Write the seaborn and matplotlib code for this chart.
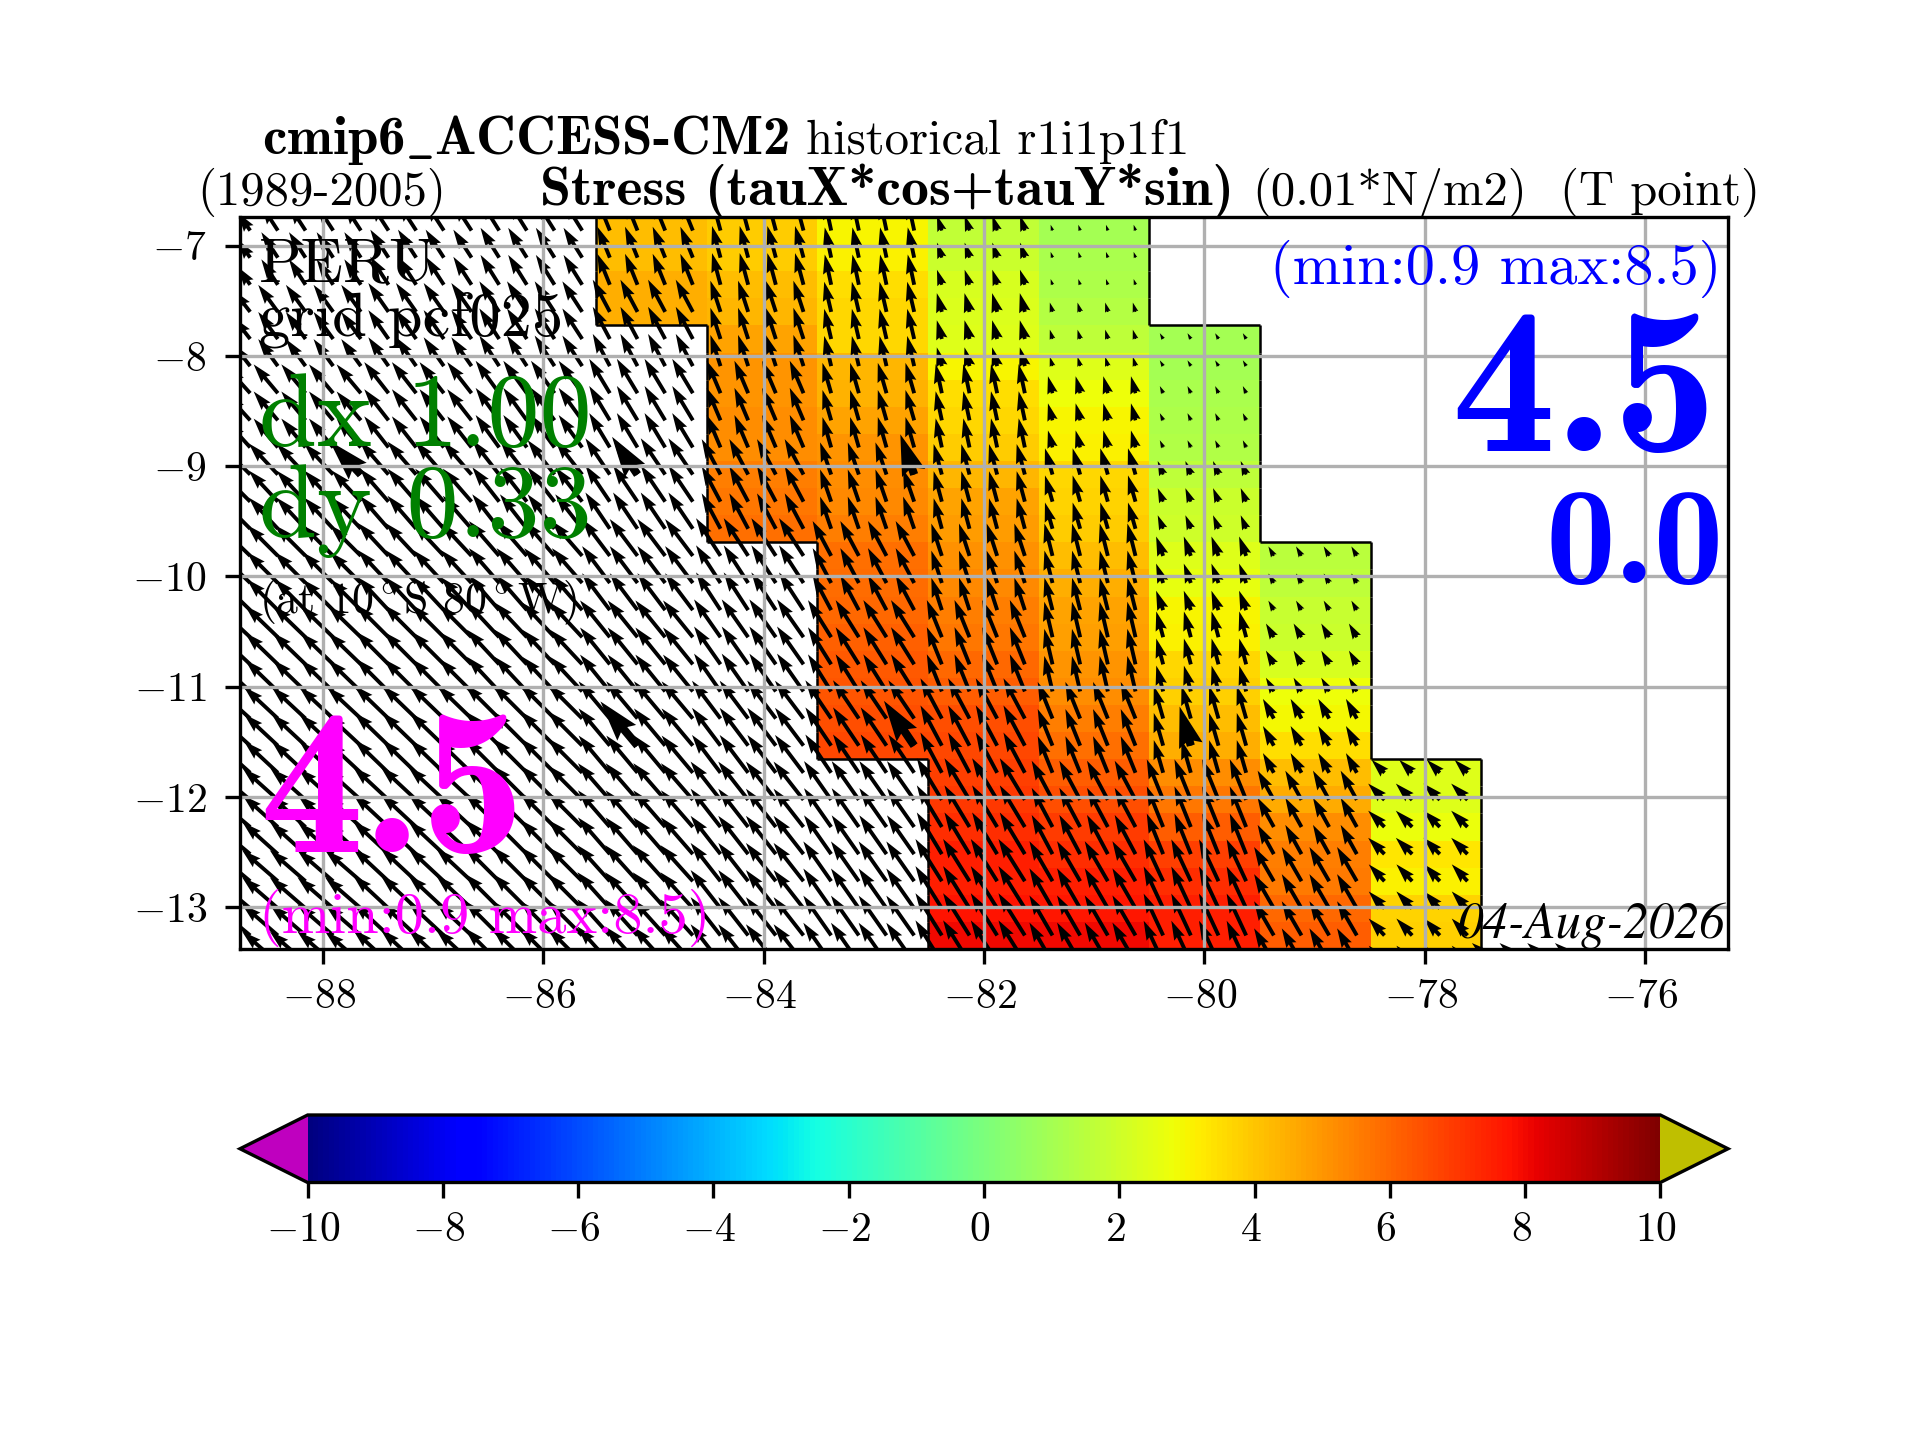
import numpy as np
import pandas as pd
import matplotlib
matplotlib.use("Agg")
import matplotlib.pyplot as plt
from matplotlib.transforms import ScaledTranslation
import seaborn as sns

plt.rcParams['mathtext.fontset'] = 'cm'
plt.rcParams['font.family'] = ['cmr10', 'DejaVu Serif']
plt.rcParams['axes.unicode_minus'] = True

# grid of the field: about 1 degree columns, 27 rows
col_lons = [-89, -88, -87, -86, -85, -84, -83, -82, -81, -80, -79, -78, -77]
col_width = 1.004
west_edge = -89.536
lat_top = -6.74
lat_bottom = -13.38
lon_lim = (-88.75, -75.25)
n_rows = 27
lon_ticks = [-88, -86, -84, -82, -80, -78, -76]
lat_ticks = [-7, -8, -9, -10, -11, -12, -13]
cbar_ticks = [-10, -8, -6, -4, -2, 0, 2, 4, 6, 8, 10]

# shaded values, column by column, from the first shaded row down
first_row = {-85: 0, -84: 0, -83: 0, -82: 0, -81: 0, -80: 4, -79: 12, -78: 20}
col_m85 = [4.2, 4.2, 4.5, 4.5]
col_m84 = [3.9, 3.9, 4.2, 4.3, 4.7, 5.0, 5.0, 5.2, 5.2, 5.5, 5.7, 5.8]
col_m83 = [3.0, 3.1, 3.45, 3.6, 3.6, 4.3, 4.4, 4.7, 5.0, 5.2, 5.3, 5.5, 5.8, 5.9, 6.0, 6.1, 6.3, 6.4, 6.5, 6.7]
col_m82 = [1.7, 1.9, 2.2, 2.3, 2.4, 3.0, 3.5, 3.6, 3.9, 4.3, 4.7, 4.9, 5.1, 5.3, 5.5, 5.7, 6.0, 6.2, 6.5, 6.7,
           6.8, 7.0, 7.2, 7.5, 7.5, 7.8, 8.0]
col_m81 = [1.0, 1.1, 1.2, 1.4, 1.6, 2.4, 2.8, 3.0, 3.1, 3.6, 3.7, 3.9, 4.2, 4.5, 4.7, 4.8, 5.0, 5.2, 5.5, 5.8,
           6.2, 6.5, 6.9, 7.2, 7.5, 7.7, 8.0]
col_m80 = [1.0, 1.0, 1.1, 1.2, 1.3, 1.6, 1.9, 2.0, 2.4, 2.6, 3.0, 3.1, 3.6, 3.8, 4.2, 4.5, 5.2, 5.7, 6.2, 6.8,
           7.2, 7.5, 7.5]
col_m79 = [1.5, 1.6, 1.8, 1.9, 2.2, 2.8, 2.9, 3.5, 4.2, 4.6, 5.2, 5.5, 5.6, 6.0, 6.2]
col_m78 = [2.4, 2.4, 2.7, 3.3, 3.1, 3.7, 3.8]
shaded = {-85: col_m85, -84: col_m84, -83: col_m83, -82: col_m82, -81: col_m81, -80: col_m80, -79: col_m79, -78: col_m78}

# arrow speed and direction (degrees west of north), one line per band of 3 rows,
# last line is the row just under the frame whose tips still show
arrow_speed = [
    [3.6, 5.0, 5.5, 5.8, 5.5, 5.4, 5.1, 2.6, 1.0, 1.0, 1.5, 3.0, 3.0],
    [4.5, 5.5, 5.8, 6.0, 6.0, 5.4, 5.1, 3.2, 1.6, 1.1, 1.5, 3.0, 3.0],
    [5.8, 6.2, 6.5, 6.6, 6.6, 5.8, 5.2, 4.9, 2.9, 1.3, 1.5, 3.0, 3.0],
    [6.8, 7.0, 7.2, 7.2, 7.2, 6.6, 5.6, 5.2, 4.5, 2.4, 1.5, 3.0, 3.0],
    [7.0, 7.2, 7.4, 7.6, 7.6, 7.4, 6.5, 5.6, 5.5, 3.4, 1.8, 3.0, 3.0],
    [7.2, 7.5, 7.6, 7.8, 7.8, 7.6, 7.2, 6.6, 6.0, 4.4, 2.6, 3.0, 3.0],
    [7.5, 7.6, 7.8, 8.0, 8.0, 7.8, 7.6, 7.5, 6.5, 5.6, 3.7, 3.0, 3.0],
    [7.8, 7.8, 8.0, 8.0, 8.0, 8.0, 7.8, 8.0, 7.3, 7.2, 5.5, 3.8, 3.0],
    [7.8, 7.8, 8.0, 8.0, 8.0, 8.0, 8.0, 8.2, 7.6, 7.6, 6.5, 3.8, 3.0],
    [7.8, 7.8, 8.0, 8.0, 8.0, 8.0, 8.0, 8.2, 7.6, 7.6, 6.5, 3.8, 5.0],
]
arrow_angle = [
    [35, 33, 33, 32, 22, 15, 12, 18, 18, 30, 30, 45, 50],
    [38, 36, 35, 33, 28, 18, 13, 15, 16, 30, 30, 45, 50],
    [42, 40, 38, 36, 31, 23, 16, 12, 15, 25, 30, 45, 50],
    [45, 43, 41, 38, 34, 28, 19, 15, 16, 22, 30, 45, 50],
    [46, 45, 43, 41, 37, 33, 28, 18, 14, 20, 30, 45, 50],
    [47, 46, 45, 43, 39, 35, 32, 22, 13, 15, 30, 45, 50],
    [48, 47, 46, 45, 40, 37, 34, 28, 22, 16, 29, 45, 50],
    [50, 48, 47, 45, 41, 38, 35, 31, 28, 22, 29, 45, 50],
    [50, 49, 47, 45, 42, 38, 35, 32, 30, 25, 30, 43, 50],
    [50, 49, 47, 45, 42, 38, 35, 32, 30, 25, 30, 43, 50],
]

# the few thicker arrows: column, place inside the column, row, speed
big_col = [-88, -85, -83, -85, -83, -80]
big_sub = [3, 1, 3, 1, 3, 1]
big_row = [9, 9, 9, 19, 19, 19]
big_speed = [7.5, 7.5, 7.0, 9.5, 8.9, 6.7]


def to_x(lon):
    return (np.asarray(lon, dtype=float) - west_edge) / col_width


def to_y(lat):
    return (lat_top - np.asarray(lat, dtype=float)) / ((lat_top - lat_bottom) / n_rows)


def px_text(x, y, s, **kw):
    fig.text(x / 1920, 1 - y / 1440, s, va='baseline', **kw)


df = pd.DataFrame(np.nan, index=range(n_rows), columns=col_lons)
for lon, vals in shaded.items():
    start = first_row[lon]
    df.loc[start:start + len(vals) - 1, lon] = vals

cmap = plt.get_cmap('jet').copy()
cmap.set_under('#BF00BF')
cmap.set_over('#BFBF00')

fig = plt.figure(figsize=(6.4, 4.8), dpi=300)
ax = fig.add_axes([0.125, 1 - 949 / 1440, 0.775, 732 / 1440])
cax = fig.add_axes([0.125, 1 - 1182.5 / 1440, 0.775, 67.5 / 1440])

sns.heatmap(df, mask=df.isna(), cmap=cmap, vmin=-10, vmax=10, ax=ax, cbar_ax=cax,
            cbar_kws={'orientation': 'horizontal', 'extend': 'both', 'ticks': cbar_ticks},
            xticklabels=False, yticklabels=False)

# arrows, 4 per column and one per row
xs, ys, us, vs = [], [], [], []
for c, lon in enumerate(col_lons):
    start = first_row.get(lon, n_rows if lon > -85 else 0)
    for r in range(start, n_rows + 1):
        band = 9 if r == n_rows else r // 3
        speed = arrow_speed[band][c]
        ang = np.radians(arrow_angle[band][c])
        for k in range(4):
            xs.append(c + (k + 0.5) / 4)
            ys.append(r + 0.5)
            us.append(-speed * np.sin(ang))
            vs.append(speed * np.cos(ang))
ax.quiver(xs, ys, us, vs, angles='uv', scale_units='width', scale=245, units='width',
          pivot='tail', width=0.0026, color='k')

bx, by, bu, bv = [], [], [], []
for lon, k, r, speed in zip(big_col, big_sub, big_row, big_speed):
    c = col_lons.index(lon)
    ang = np.radians(arrow_angle[r // 3][c])
    bx.append(c + (k + 0.5) / 4)
    by.append(r + 0.5)
    bu.append(-speed * np.sin(ang))
    bv.append(speed * np.cos(ang))
ax.quiver(bx, by, bu, bv, angles='uv', scale_units='width', scale=245, units='width',
          pivot='tail', width=0.0055, color='k')

# outline of the shaded domain, from the mask
inside = df.notna().to_numpy()
for r in range(n_rows):
    for c in range(len(col_lons)):
        if not inside[r, c]:
            continue
        if c == 0 or not inside[r, c - 1]:
            ax.vlines(c, r, r + 1, color='k', lw=0.6, zorder=1.2)
        if c == len(col_lons) - 1 or not inside[r, c + 1]:
            ax.vlines(c + 1, r, r + 1, color='k', lw=0.6, zorder=1.2)
        if r > 0 and not inside[r - 1, c]:
            ax.hlines(r, c, c + 1, color='k', lw=0.6, zorder=1.2)
        if r < n_rows - 1 and not inside[r + 1, c]:
            ax.hlines(r + 1, c, c + 1, color='k', lw=0.6, zorder=1.2)

ax.set_xlim(to_x(lon_lim[0]), to_x(lon_lim[1]))
ax.set_ylim(n_rows, 0)
ax.set_xticks(to_x(lon_ticks))
ax.set_xticklabels([f'${v}$' for v in lon_ticks], rotation=0, fontsize=10)
ax.set_yticks(to_y(lat_ticks))
ax.set_yticklabels([f'${v}$' for v in lat_ticks], rotation=0, fontsize=10)
ax.tick_params(left=True, bottom=True)
ax.grid(True, color='#b0b0b0', lw=0.8)
for s in ax.spines.values():
    s.set_visible(True)
    s.set_linewidth(0.8)
    s.set_color('k')

cb = ax.collections[0].colorbar
cb.outline.set_linewidth(0.8)
cb.outline.set_edgecolor('k')
cb.ax.set_xticklabels([f'${v}$' for v in cbar_ticks], fontsize=10)

# the minus sign pushes the labels a little to the left in the original
nudge = ScaledTranslation(-4 / 300, 0, fig.dpi_scale_trans)
for lab in ax.get_xticklabels() + ax.get_yticklabels() + cb.ax.get_xticklabels():
    lab.set_transform(lab.get_transform() + nudge)

# titles
px_text(262, 154, 'cmip6$\\_$ACCESS-CM2', family='cmb10', fontsize=13.2)
px_text(806, 154, 'historical r1i1p1f1', fontsize=11.7)
px_text(197, 205, '(1989-2005)', fontsize=11.7)
px_text(540, 205, 'Stress (tauX*cos+tauY*sin)', family='cmb10', fontsize=13.4)
px_text(1252, 205, '(0.01*N/m2)', fontsize=11.7)
px_text(1560, 205, '(T point)', fontsize=11.7)

# annotations on the map
px_text(259, 281, 'PERU', fontsize=15)
px_text(259, 335, 'grid pcf025', fontsize=15)
px_text(259, 446, 'dx 1.00', fontsize=25, color='green')
px_text(259, 537, 'dy 0.33', fontsize=25, color='green')
px_text(259, 613, '(at 10$^\\circ$S 80$^\\circ$W)', fontsize=10.5)
px_text(259, 852, '4.5', family='cmb10', fontsize=50, color='magenta')
px_text(259, 933, '(min:0.9 max:8.5)', fontsize=14, color='magenta')
px_text(1721, 284, '(min:0.9 max:8.5)', fontsize=14, color='blue', ha='right')
px_text(1717, 451, '4.5', family='cmb10', fontsize=50, color='blue', ha='right')
px_text(1724, 583, '0.0', family='cmb10', fontsize=33.5, color='blue', ha='right')
px_text(1725, 938, '04-Aug-2026', family='STIXGeneral', style='italic', fontsize=12.2, ha='right')

plt.savefig('out.png', dpi=300)
plt.close()
